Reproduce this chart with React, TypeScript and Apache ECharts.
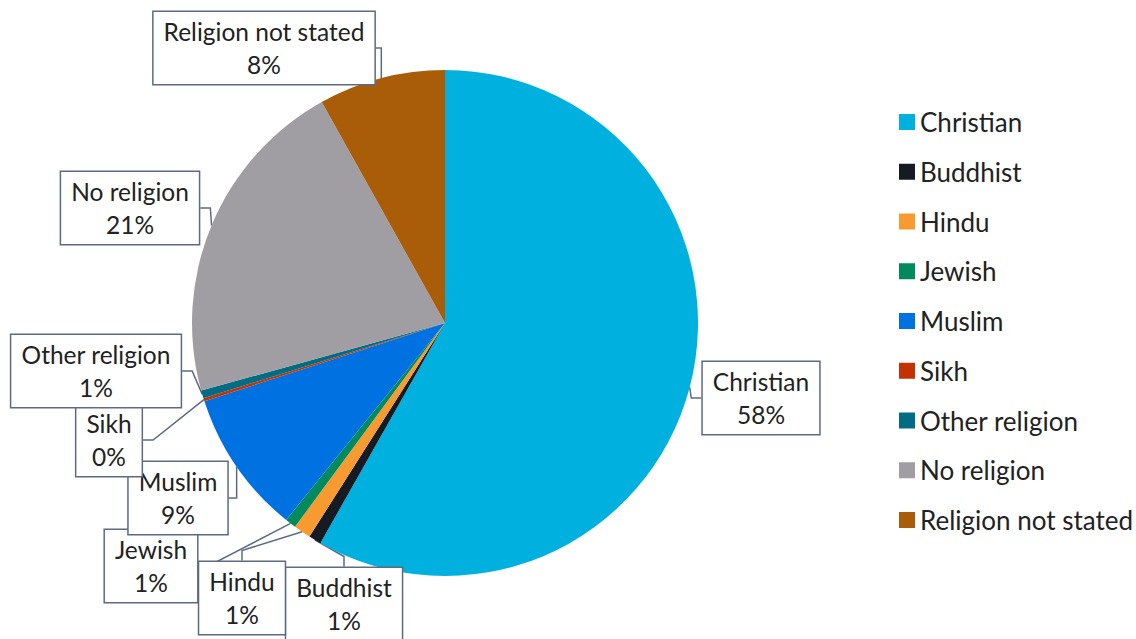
import React, { useEffect, useRef } from "react";
import * as echarts from "echarts";

const categories = [
  "Christian",
  "Buddhist",
  "Hindu",
  "Jewish",
  "Muslim",
  "Sikh",
  "Other religion",
  "No religion",
  "Religion not stated",
];
const shares = [58.2, 0.8, 1.1, 0.7, 9.2, 0.2, 0.5, 21.2, 8.1];
const colors = [
  "#00B0DF",
  "#161A22",
  "#F79A30",
  "#008A5E",
  "#0071E1",
  "#C23205",
  "#026C85",
  "#A09DA3",
  "#AA5D09",
];
// label box centres (layout only)
const labelCentres: [number, number][] = [
  [761, 398],
  [344, 604],
  [242, 598],
  [151, 566],
  [178, 498],
  [109, 440],
  [96, 371],
  [130, 208],
  [264, 48],
];

const FONT = "Lato, 'Noto Sans', sans-serif";

export default function App() {
  const ref = useRef<HTMLDivElement>(null);
  useEffect(() => {
    if (!ref.current) return;
    const chart = echarts.init(ref.current, undefined, { renderer: "svg" });
    chart.setOption({
      animation: false,
      backgroundColor: "#ffffff",
      color: colors,
      legend: {
        orient: "vertical",
        left: 894,
        top: 104,
        icon: "rect",
        itemWidth: 16,
        itemHeight: 16,
        itemGap: 23.75,
        textStyle: {
          fontFamily: FONT,
          fontSize: 26,
          lineHeight: 26,
          color: "#222222",
        },
        data: categories,
      },
      series: [
        {
          type: "pie",
          center: [445, 323],
          radius: [0, 253],
          startAngle: 90,
          clockwise: true,
          avoidLabelOverlap: false,
          data: categories.map((c, i) => ({ name: c, value: shares[i] })),
          label: {
            show: true,
            position: "outside",
            formatter: (p: any) => `${p.name}\n${Math.round(p.value)}%`,
            fontFamily: FONT,
            fontSize: 24.5,
            lineHeight: 33,
            color: "#222222",
            align: "center",
            backgroundColor: "#ffffff",
            borderColor: "#5C6B80",
            borderWidth: 1.5,
            padding: [3, 10, 3, 10],
          },
          labelLine: {
            show: true,
            length: 10,
            length2: 10,
            lineStyle: { color: "#5C6B80", width: 1.5 },
          },
          labelLayout: (params: any) => {
            const c = labelCentres[params.dataIndex];
            return {
              x: c[0],
              y: c[1],
              align: "center",
              verticalAlign: "middle",
              hideOverlap: false,
            };
          },
        },
      ],
    });
    return () => chart.dispose();
  }, []);
  return <div ref={ref} style={{ width: 1136, height: 639, position: "absolute", left: 0, top: 0 }} />;
}
